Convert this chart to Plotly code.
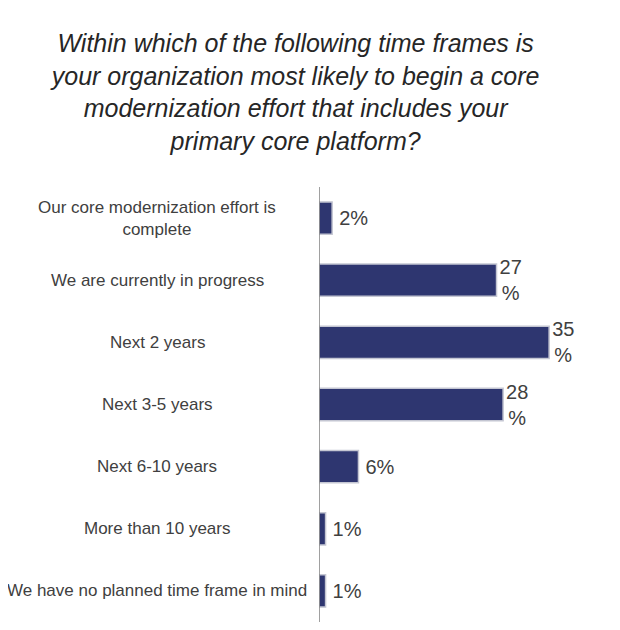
import plotly.graph_objects as go

categories = [
    "Our core modernization effort is<br>complete",
    "We are currently in progress",
    "Next 2 years",
    "Next 3-5 years",
    "Next 6-10 years",
    "More than 10 years",
    "We have no planned time frame in mind",
]
values = [2, 27, 35, 28, 6, 1, 1]
labels = [f"{v}<br>%" if v >= 10 else f"\u2009{v}%" for v in values]

title_text = ("Within which of the following time frames is<br>"
              "your organization most likely to begin a core<br>"
              "modernization effort that includes your<br>"
              "primary core platform?")

# page body has an 8px margin, so the figure is 8px smaller each way
W, H = 612, 622
ml, mr, mt, mb = 311, 38, 179, 8
pw = W - ml - mr

fig = go.Figure(go.Bar(
    x=values, y=categories, orientation="h",
    marker=dict(color="#2e3670", line=dict(color="#c4c6d2", width=1.5)),
    text=labels, textposition="outside", cliponaxis=False,
    constraintext="none",
    textfont=dict(family="Liberation Sans, Arial", size=20, color="#404040"),
    hoverinfo="skip",
))

label_center_px = 149  # in figure pixels
annotations = []
for c in categories:
    annotations.append(dict(
        x=(label_center_px - ml) / pw, xref="paper", xanchor="center",
        y=c, yref="y", yanchor="middle",
        text=c, showarrow=False, align="center",
        font=dict(family="Liberation Sans, Arial", size=17, color="#404040"),
    ))

fig.update_layout(
    width=W, height=H,
    margin=dict(l=ml, r=mr, t=mt, b=mb),
    paper_bgcolor="white", plot_bgcolor="white",
    showlegend=False, bargap=0.48,
    title=dict(
        text=f"<i>{title_text}</i>", x=0.47, xanchor="center",
        y=1 - 44 / H, yanchor="top",
        font=dict(family="Liberation Sans, Arial", size=25, color="#262626"),
    ),
    xaxis=dict(range=[0, 40], visible=False, fixedrange=True),
    yaxis=dict(
        autorange="reversed", showticklabels=False, showgrid=False,
        zeroline=False, showline=False, ticks="", fixedrange=True,
    ),
    annotations=annotations,
    shapes=[dict(type="line", xref="x", yref="paper", x0=0, x1=0, y0=0, y1=1,
                 line=dict(color="#808080", width=1.5))],
)

fig.write_html("out.html")
